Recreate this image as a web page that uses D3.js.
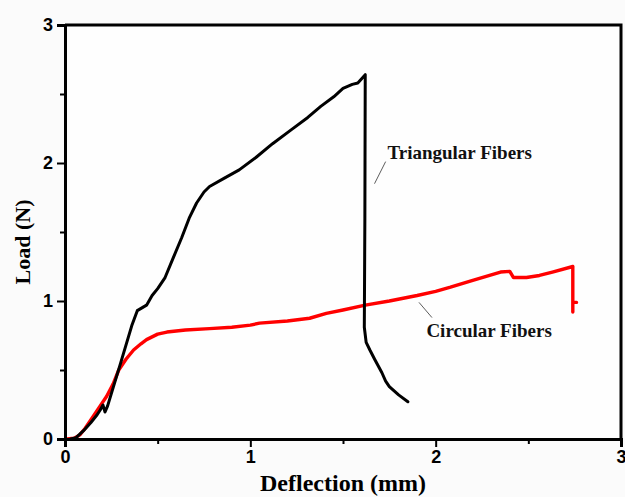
<!DOCTYPE html>
<html>
<head>
<meta charset="utf-8">
<script src="https://cdn.jsdelivr.net/npm/d3@7"></script>
<style>
  html, body { margin: 0; padding: 0; background: #fbfbfb; }
  svg { display: block; }
</style>
</head>
<body>
<svg id="chart" width="625" height="497"></svg>
<script>
// Load–deflection curves for two fiber cross-sections
const triangularX = [0.03, 0.06, 0.10, 0.14, 0.17, 0.19, 0.205, 0.216, 0.23, 0.30, 0.36, 0.39, 0.44, 0.47, 0.50, 0.53, 0.54, 0.58, 0.63, 0.67, 0.71, 0.75, 0.78, 0.86, 0.94, 1.03, 1.12, 1.22, 1.31, 1.38, 1.45, 1.50, 1.55, 1.58, 1.62, 1.618, 1.615, 1.625, 1.645, 1.67, 1.71, 1.73, 1.75, 1.80, 1.85];
const triangularY = [0.00, 0.01, 0.06, 0.12, 0.17, 0.21, 0.246, 0.196, 0.24, 0.55, 0.82, 0.93, 0.97, 1.04, 1.09, 1.15, 1.17, 1.30, 1.46, 1.60, 1.71, 1.79, 1.83, 1.89, 1.95, 2.04, 2.14, 2.24, 2.33, 2.41, 2.48, 2.54, 2.57, 2.58, 2.64, 1.60, 0.81, 0.70, 0.645, 0.58, 0.48, 0.42, 0.38, 0.32, 0.27];

const circularX = [0.01, 0.05, 0.08, 0.11, 0.15, 0.19, 0.225, 0.26, 0.29, 0.33, 0.37, 0.41, 0.44, 0.50, 0.55, 0.65, 0.78, 0.90, 1.00, 1.05, 1.20, 1.32, 1.41, 1.50, 1.62, 1.75, 1.90, 2.00, 2.08, 2.20, 2.35, 2.40, 2.42, 2.49, 2.56, 2.63, 2.74, 2.74, 2.76, 2.74, 2.74];
const circularY = [0.00, 0.005, 0.03, 0.08, 0.16, 0.24, 0.31, 0.40, 0.50, 0.58, 0.645, 0.69, 0.72, 0.76, 0.775, 0.79, 0.80, 0.81, 0.825, 0.84, 0.855, 0.875, 0.91, 0.935, 0.97, 1.00, 1.04, 1.07, 1.10, 1.15, 1.21, 1.215, 1.17, 1.17, 1.185, 1.21, 1.25, 0.99, 0.99, 0.99, 0.92];

const majorTicks = [0, 1, 2, 3];
const minorTicks = [0.5, 1.5, 2.5];

const xTitle = "Deflection (mm)";
const yTitle = "Load (N)";
const seriesNames = ["Triangular Fibers", "Circular Fibers"];
// label anchors (data coords) and leader-line ends
const labelAt = [[1.74, 2.03], [1.95, 0.74]];
const leaderFrom = [[1.73, 2.01], [1.91, 0.99]];
const leaderTo = [[1.67, 1.85], [1.98, 0.88]];

const svg = d3.select("#chart");
const plotLeft = 65, plotRight = 621, plotTop = 25, plotBottom = 439;

const x = d3.scaleLinear().domain([0, 3]).range([plotLeft, plotRight]);
const y = d3.scaleLinear().domain([0, 3]).range([plotBottom, plotTop]);

// plot background
svg.append("rect")
  .attr("x", plotLeft).attr("y", plotTop)
  .attr("width", plotRight - plotLeft).attr("height", plotBottom - plotTop)
  .attr("fill", "#fefefe");

const line = d3.line().x(d => x(d[0])).y(d => y(d[1])).curve(d3.curveLinear);

const tri = triangularX.map((v, i) => [v, triangularY[i]]);
const cir = circularX.map((v, i) => [v, circularY[i]]);

svg.append("path").datum(cir)
  .attr("d", line).attr("fill", "none")
  .attr("stroke", "#ff0000").attr("stroke-width", 3.4)
  .attr("stroke-linejoin", "round").attr("stroke-linecap", "round");

svg.append("path").datum(tri)
  .attr("d", line).attr("fill", "none")
  .attr("stroke", "#000").attr("stroke-width", 3)
  .attr("stroke-linejoin", "round").attr("stroke-linecap", "round");

// frame (top and right)
svg.append("path")
  .attr("d", `M${plotLeft},${plotTop}H${plotRight}V${plotBottom}`)
  .attr("fill", "none").attr("stroke", "#000").attr("stroke-width", 3);

function styleAxis(g) {
  g.select(".domain").attr("stroke-width", 3).attr("stroke", "#000");
  g.selectAll(".tick line").attr("stroke-width", 2).attr("stroke", "#000");
  g.selectAll("text")
    .attr("font-family", "'Liberation Sans', Arial, sans-serif")
    .attr("font-weight", "bold")
    .attr("font-size", 18)
    .attr("fill", "#000");
}

// x axis
const gx = svg.append("g").attr("transform", `translate(0,${plotBottom})`);
gx.call(d3.axisBottom(x).tickValues(majorTicks).tickSize(8).tickPadding(3).tickFormat(d3.format("d")))
  .call(styleAxis);
const gxm = svg.append("g").attr("transform", `translate(0,${plotBottom})`);
gxm.call(d3.axisBottom(x).tickValues(minorTicks).tickSize(5).tickFormat(""))
  .call(g => g.select(".domain").remove())
  .call(g => g.selectAll(".tick line").attr("stroke-width", 2));

// y axis
const gy = svg.append("g").attr("transform", `translate(${plotLeft},0)`);
gy.call(d3.axisLeft(y).tickValues(majorTicks).tickSize(8).tickPadding(4).tickFormat(d3.format("d")))
  .call(styleAxis);
const gym = svg.append("g").attr("transform", `translate(${plotLeft},0)`);
gym.call(d3.axisLeft(y).tickValues(minorTicks).tickSize(5).tickFormat(""))
  .call(g => g.select(".domain").remove())
  .call(g => g.selectAll(".tick line").attr("stroke-width", 2));

// axis titles
svg.append("text")
  .attr("x", (plotLeft + plotRight) / 2).attr("y", 491)
  .attr("text-anchor", "middle")
  .attr("font-family", "'Liberation Serif', 'Times New Roman', serif")
  .attr("font-weight", "bold").attr("font-size", 24)
  .text(xTitle);

svg.append("text")
  .attr("transform", `translate(30,${(plotTop + plotBottom) / 2 + 10}) rotate(-90)`)
  .attr("text-anchor", "middle")
  .attr("font-family", "'Liberation Serif', 'Times New Roman', serif")
  .attr("font-weight", "bold").attr("font-size", 22)
  .text(yTitle);

// series labels with leader lines
seriesNames.forEach((name, i) => {
  svg.append("line")
    .attr("x1", x(leaderFrom[i][0])).attr("y1", y(leaderFrom[i][1]))
    .attr("x2", x(leaderTo[i][0])).attr("y2", y(leaderTo[i][1]))
    .attr("stroke", "#333").attr("stroke-width", 0.8);
  svg.append("text")
    .attr("x", x(labelAt[i][0])).attr("y", y(labelAt[i][1]))
    .attr("font-family", "'Liberation Serif', 'Times New Roman', serif")
    .attr("font-weight", "bold").attr("font-size", 19)
    .attr("fill", "#111")
    .text(name);
});
</script>
</body>
</html>
